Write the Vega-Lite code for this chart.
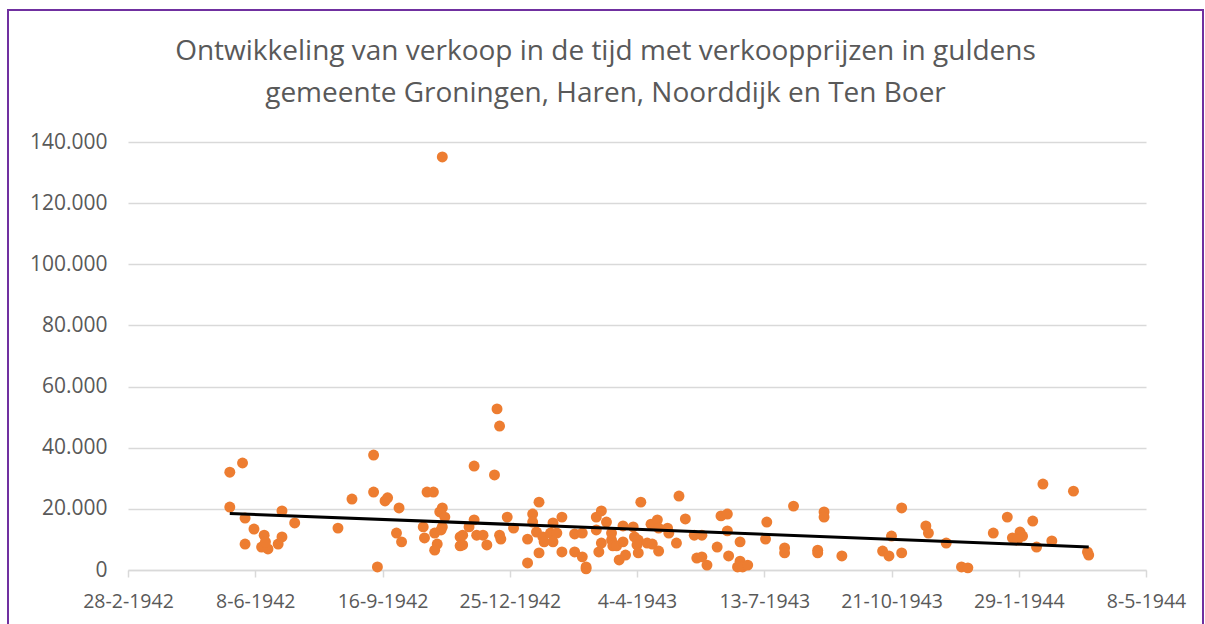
{
  "$schema": "https://vega.github.io/schema/vega-lite/v6.json",
  "width": 1195,
  "height": 620,
  "autosize": {"type": "none"},
  "padding": {"left": 8, "top": 10, "right": 2, "bottom": 0},
  "background": "white",
  "title": {
    "text": ["Ontwikkeling van verkoop in de tijd met verkoopprijzen in guldens", "gemeente Groningen, Haren, Noorddijk en Ten Boer"],
    "anchor": "middle",
    "frame": "group",
    "offset": -98,
    "font": "Open Sans",
    "fontSize": 28,
    "fontWeight": "normal",
    "lineHeight": 42,
    "color": "#595959"
  },
  "data": {
    "values": [
      {"date": "1942-05-19", "price": 32000},
      {"date": "1942-05-29", "price": 35000},
      {"date": "1942-05-19", "price": 20600},
      {"date": "1942-05-31", "price": 17000},
      {"date": "1942-06-07", "price": 13400},
      {"date": "1942-06-15", "price": 11400},
      {"date": "1942-05-31", "price": 8500},
      {"date": "1942-06-13", "price": 7500},
      {"date": "1942-06-18", "price": 6900},
      {"date": "1942-06-16", "price": 9200},
      {"date": "1942-06-26", "price": 8500},
      {"date": "1942-06-29", "price": 10800},
      {"date": "1942-06-29", "price": 19300},
      {"date": "1942-07-09", "price": 15400},
      {"date": "1942-08-12", "price": 13700},
      {"date": "1942-08-23", "price": 23200},
      {"date": "1942-09-09", "price": 37600},
      {"date": "1942-09-09", "price": 25500},
      {"date": "1942-09-18", "price": 22600},
      {"date": "1942-09-20", "price": 23600},
      {"date": "1942-09-29", "price": 20300},
      {"date": "1942-09-27", "price": 12100},
      {"date": "1942-10-01", "price": 9200},
      {"date": "1942-09-12", "price": 1000},
      {"date": "1942-10-21", "price": 25500},
      {"date": "1942-10-26", "price": 25500},
      {"date": "1942-10-18", "price": 14100},
      {"date": "1942-10-19", "price": 10500},
      {"date": "1942-10-27", "price": 12100},
      {"date": "1942-10-29", "price": 8500},
      {"date": "1942-10-27", "price": 6500},
      {"date": "1942-11-02", "price": 20300},
      {"date": "1942-10-31", "price": 19000},
      {"date": "1942-11-04", "price": 17300},
      {"date": "1942-11-02", "price": 14100},
      {"date": "1942-11-01", "price": 13100},
      {"date": "1942-11-16", "price": 10800},
      {"date": "1942-11-16", "price": 7900},
      {"date": "1942-11-02", "price": 135100},
      {"date": "1942-12-15", "price": 52700},
      {"date": "1942-12-17", "price": 47100},
      {"date": "1942-11-27", "price": 34000},
      {"date": "1942-12-13", "price": 31100},
      {"date": "1943-01-17", "price": 22200},
      {"date": "1942-11-27", "price": 16400},
      {"date": "1942-11-23", "price": 14100},
      {"date": "1942-11-18", "price": 11400},
      {"date": "1942-11-18", "price": 8200},
      {"date": "1942-11-29", "price": 11400},
      {"date": "1942-12-04", "price": 11400},
      {"date": "1942-12-07", "price": 8200},
      {"date": "1942-12-17", "price": 11400},
      {"date": "1942-12-18", "price": 10100},
      {"date": "1942-12-23", "price": 17300},
      {"date": "1942-12-28", "price": 13700},
      {"date": "1943-01-08", "price": 10100},
      {"date": "1943-01-08", "price": 2300},
      {"date": "1943-01-12", "price": 18300},
      {"date": "1943-01-12", "price": 15700},
      {"date": "1943-01-15", "price": 12400},
      {"date": "1943-01-17", "price": 5600},
      {"date": "1943-01-20", "price": 10800},
      {"date": "1943-01-21", "price": 9200},
      {"date": "1943-01-26", "price": 12100},
      {"date": "1943-01-28", "price": 9200},
      {"date": "1943-01-28", "price": 15400},
      {"date": "1943-01-31", "price": 12100},
      {"date": "1943-02-04", "price": 17300},
      {"date": "1943-02-04", "price": 5900},
      {"date": "1943-02-14", "price": 11800},
      {"date": "1943-02-14", "price": 5900},
      {"date": "1943-02-20", "price": 12100},
      {"date": "1943-02-20", "price": 4300},
      {"date": "1943-02-23", "price": 1000},
      {"date": "1943-02-23", "price": 400},
      {"date": "1943-03-03", "price": 17300},
      {"date": "1943-03-07", "price": 19300},
      {"date": "1943-03-11", "price": 15700},
      {"date": "1943-03-03", "price": 13100},
      {"date": "1943-03-07", "price": 8800},
      {"date": "1943-03-05", "price": 5900},
      {"date": "1943-03-15", "price": 12100},
      {"date": "1943-03-15", "price": 9800},
      {"date": "1943-03-16", "price": 7900},
      {"date": "1943-03-19", "price": 7900},
      {"date": "1943-03-21", "price": 3300},
      {"date": "1943-03-26", "price": 4900},
      {"date": "1943-03-24", "price": 14400},
      {"date": "1943-03-24", "price": 9200},
      {"date": "1943-04-01", "price": 14100},
      {"date": "1943-04-02", "price": 10800},
      {"date": "1943-04-05", "price": 9800},
      {"date": "1943-04-04", "price": 8200},
      {"date": "1943-04-05", "price": 5600},
      {"date": "1943-04-07", "price": 22200},
      {"date": "1943-04-12", "price": 8800},
      {"date": "1943-04-15", "price": 15000},
      {"date": "1943-04-16", "price": 8500},
      {"date": "1943-04-20", "price": 16400},
      {"date": "1943-04-21", "price": 13700},
      {"date": "1943-04-21", "price": 6200},
      {"date": "1943-04-28", "price": 13700},
      {"date": "1943-04-29", "price": 12100},
      {"date": "1943-05-05", "price": 8800},
      {"date": "1943-05-07", "price": 24200},
      {"date": "1943-05-12", "price": 16700},
      {"date": "1943-05-19", "price": 11400},
      {"date": "1943-05-21", "price": 3900},
      {"date": "1943-05-25", "price": 11400},
      {"date": "1943-05-25", "price": 4300},
      {"date": "1943-05-29", "price": 1600},
      {"date": "1943-06-06", "price": 7500},
      {"date": "1943-06-09", "price": 17700},
      {"date": "1943-06-14", "price": 18300},
      {"date": "1943-06-14", "price": 12800},
      {"date": "1943-06-15", "price": 4600},
      {"date": "1943-06-24", "price": 9200},
      {"date": "1943-06-24", "price": 2900},
      {"date": "1943-06-22", "price": 1000},
      {"date": "1943-06-26", "price": 1000},
      {"date": "1943-06-30", "price": 1600},
      {"date": "1943-07-15", "price": 15700},
      {"date": "1943-07-14", "price": 10100},
      {"date": "1943-07-29", "price": 7200},
      {"date": "1943-07-29", "price": 5600},
      {"date": "1943-08-05", "price": 20900},
      {"date": "1943-08-24", "price": 6500},
      {"date": "1943-08-24", "price": 5600},
      {"date": "1943-08-29", "price": 19000},
      {"date": "1943-08-29", "price": 17300},
      {"date": "1943-09-12", "price": 4600},
      {"date": "1943-10-14", "price": 6200},
      {"date": "1943-10-19", "price": 4600},
      {"date": "1943-10-21", "price": 11100},
      {"date": "1943-10-29", "price": 20300},
      {"date": "1943-10-29", "price": 5600},
      {"date": "1943-11-17", "price": 14400},
      {"date": "1943-11-19", "price": 12100},
      {"date": "1943-12-03", "price": 8800},
      {"date": "1943-12-15", "price": 1000},
      {"date": "1943-12-20", "price": 700},
      {"date": "1944-01-09", "price": 12100},
      {"date": "1944-01-20", "price": 17300},
      {"date": "1944-01-24", "price": 10500},
      {"date": "1944-01-30", "price": 12400},
      {"date": "1944-02-01", "price": 11100},
      {"date": "1944-01-28", "price": 9800},
      {"date": "1944-02-09", "price": 16000},
      {"date": "1944-02-12", "price": 7500},
      {"date": "1944-02-17", "price": 28100},
      {"date": "1944-02-24", "price": 9500},
      {"date": "1944-03-12", "price": 25800},
      {"date": "1944-03-23", "price": 5900},
      {"date": "1944-03-24", "price": 4900}
    ]
  },
  "encoding": {
    "x": {
      "field": "date",
      "type": "temporal",
      "title": null,
      "scale": {
        "type": "utc",
        "domain": [
          {"year": 1942, "month": 2, "date": 28, "utc": true},
          {"year": 1944, "month": 5, "date": 8, "utc": true}
        ],
        "range": [120, 1138],
        "nice": false
      },
      "axis": {
        "orient": "bottom",
        "offset": -60,
        "values": [
          {"year": 1942, "month": 2, "date": 28, "utc": true},
          {"year": 1942, "month": 6, "date": 8, "utc": true},
          {"year": 1942, "month": 9, "date": 16, "utc": true},
          {"year": 1942, "month": 12, "date": 25, "utc": true},
          {"year": 1943, "month": 4, "date": 4, "utc": true},
          {"year": 1943, "month": 7, "date": 13, "utc": true},
          {"year": 1943, "month": 10, "date": 21, "utc": true},
          {"year": 1944, "month": 1, "date": 29, "utc": true},
          {"year": 1944, "month": 5, "date": 8, "utc": true}
        ],
        "labelExpr": "utcFormat(datum.value, '%-d-%-m-%Y')",
        "grid": false,
        "domain": true,
        "domainColor": "#d9d9d9",
        "domainWidth": 1.5,
        "ticks": true,
        "tickSize": 7,
        "tickColor": "#d9d9d9",
        "tickWidth": 1.5,
        "labelFont": "Open Sans",
        "labelFontSize": 19.5,
        "labelColor": "#595959",
        "labelPadding": 15,
        "labelOverlap": false,
        "labelFlush": false
      }
    },
    "y": {
      "field": "price",
      "type": "quantitative",
      "title": null,
      "scale": {"domain": [0, 140000], "range": [560, 132], "nice": false, "zero": true},
      "axis": {
        "orient": "left",
        "offset": -120,
        "values": [0, 20000, 40000, 60000, 80000, 100000, 120000, 140000],
        "labelExpr": "datum.value == 0 ? '0' : replace(format(datum.value, ','), ',', '.')",
        "grid": true,
        "gridColor": "#d9d9d9",
        "gridWidth": 1.5,
        "domain": false,
        "ticks": false,
        "labelFont": "Open Sans",
        "labelFontSize": 21,
        "labelColor": "#595959",
        "labelPadding": 21
      }
    }
  },
  "layer": [
    {
      "mark": {"type": "circle", "size": 120, "color": "#ED7D31", "opacity": 1}
    },
    {
      "transform": [{"regression": "price", "on": "date"}],
      "mark": {"type": "line", "color": "#000000", "strokeWidth": 3}
    }
  ],
  "config": {
    "view": {"stroke": "#7030A0", "strokeWidth": 2, "fill": "white"}
  }
}
